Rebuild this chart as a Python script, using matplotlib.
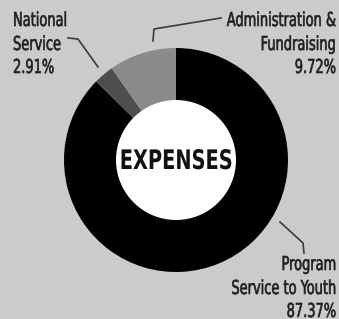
import matplotlib.pyplot as plt
from matplotlib.patches import Circle
from matplotlib.patheffects import AbstractPathEffect
from matplotlib.transforms import Affine2D

# Expense breakdown (percent)
labels = ['Program\nService to Youth', 'National\nService', 'Administration &\nFundraising']
values = [87.37, 2.91, 9.72]
colors = ['#000000', '#4e4e4e', '#8a8a8a']


class Tall(AbstractPathEffect):
    """Stretch glyphs vertically about their baseline (narrow-font look)."""

    def __init__(self, sy, lw=0.0):
        super().__init__()
        self.sy = sy
        self.lw = lw

    def draw_path(self, renderer, gc, tpath, affine, rgbFace=None):
        gc0 = renderer.new_gc()
        gc0.copy_properties(gc)
        if self.lw and rgbFace is not None:
            gc0.set_linewidth(self.lw)
            gc0.set_foreground(rgbFace)
        renderer.draw_path(gc0, tpath, Affine2D().scale(1, self.sy) + affine, rgbFace)
        gc0.restore()


W, H = 339, 319
fig = plt.figure(figsize=(W / 100, H / 100), dpi=100)
fig.patch.set_facecolor('#cbcbcb')
ax = fig.add_axes([0, 0, 1, 1])
ax.set_facecolor('#cbcbcb')

cx, cy = 176, H - 160
ax.pie(values, colors=colors, startangle=90, counterclock=False,
       center=(cx, cy), radius=112, wedgeprops=dict(linewidth=0))
ax.add_patch(Circle((cx, cy), 60, facecolor='white', edgecolor='none', zorder=5))
ax.text(cx, H - 169, 'EXPENSES', ha='center', va='baseline', fontsize=15.5,
        fontweight='bold', family='DejaVu Sans', fontstretch='condensed',
        color='#111111', path_effects=[Tall(1.25)], zorder=6)

ax.set_xlim(0, W)
ax.set_ylim(0, H)
ax.set_aspect('equal')
ax.axis('off')

font = dict(fontsize=10.4, family='DejaVu Sans', fontstretch='condensed',
            color='#1e1e1e', va='baseline', path_effects=[Tall(1.33, 0.45)])


def block(x, baselines, text, ha):
    for y, line in zip(baselines, text.split('\n')):
        ax.text(x, H - y, line, ha=ha, **font)


# labels with their percentages
block(13, [26, 50, 73], f'{labels[1]}\n{values[1]:.2f}%', 'left')
block(336, [26, 50, 73], f'{labels[2]}\n{values[2]:.2f}%', 'right')
block(336, [270, 294, 317], f'{labels[0]}\n{values[0]:.2f}%', 'right')

# leader lines
lc = dict(color='#3a3a3a', linewidth=1.2)
ax.plot([68, 78, 98], [H - 38, H - 39, H - 67], **lc)
ax.plot([153, 154, 221], [H - 41, H - 29, H - 18], **lc)
ax.plot([280, 303, 304], [H - 222, H - 243, H - 253], **lc)

fig.savefig('out.png', dpi=100, facecolor=fig.get_facecolor())
